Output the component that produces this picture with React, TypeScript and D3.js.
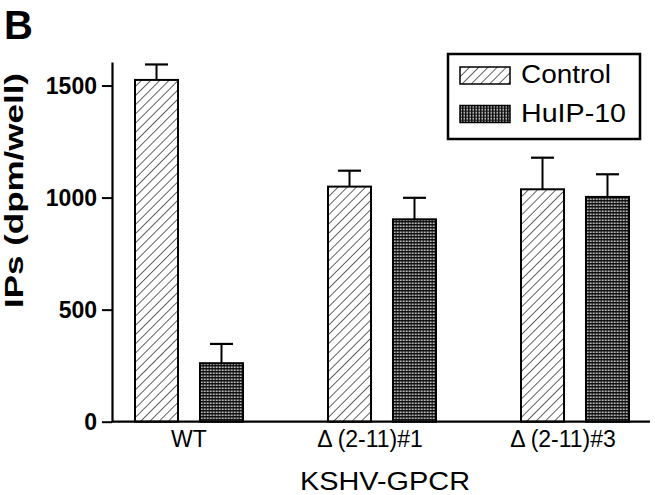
import * as d3 from 'd3';
import React, { useEffect, useRef } from 'react';

// categories + series
const groups = ['WT', 'Δ (2-11)#1', 'Δ (2-11)#3'];
const seriesNames = ['Control', 'HuIP-10'];
const controlValues = [1525, 1049, 1037];
const controlErrors = [69, 71, 141];
const huipValues = [261, 903, 1003];
const huipErrors = [86, 96, 101];
const yTicks = [0, 500, 1000, 1500];

const FONT = '"Liberation Sans", Arial, sans-serif';

const App = () => {
  const svgRef = useRef<SVGSVGElement>(null);

  useEffect(() => {
    const svg = d3.select(svgRef.current);
    svg.selectAll('*').remove();

    // patterns
    const defs = svg.append('defs');
    const hatch = defs.append('pattern')
      .attr('id', 'hatch')
      .attr('patternUnits', 'userSpaceOnUse')
      .attr('width', 6.5)
      .attr('height', 6.5)
      .attr('patternTransform', 'rotate(45)');
    hatch.append('rect').attr('width', 6.5).attr('height', 6.5).attr('fill', '#fff');
    hatch.append('line')
      .attr('x1', 0).attr('y1', 0).attr('x2', 0).attr('y2', 6.5)
      .attr('stroke', '#111').attr('stroke-width', 1.3);

    const checker = defs.append('pattern')
      .attr('id', 'checker')
      .attr('patternUnits', 'userSpaceOnUse')
      .attr('width', 3)
      .attr('height', 3);
    checker.append('rect').attr('width', 3).attr('height', 3).attr('fill', '#111');
    checker.append('rect').attr('x', 0.5).attr('y', 0.5).attr('width', 1.5).attr('height', 1.5).attr('fill', '#eee');

    const fills = ['url(#hatch)', 'url(#checker)'];

    // scales
    const y = d3.scaleLinear().domain([0, 1605]).range([421.7, 62]);
    const x0 = d3.scaleBand().domain(groups).range([92.5, 671.5]).padding(0);
    const x1 = d3.scaleBand()
      .domain(seriesNames)
      .range([0, x0.bandwidth()])
      .paddingInner(0.338)
      .paddingOuter(0.654);

    const rows = groups.map((g, i) => ({
      group: g,
      items: [
        { name: seriesNames[0], value: controlValues[i], err: controlErrors[i] },
        { name: seriesNames[1], value: huipValues[i], err: huipErrors[i] },
      ],
    }));

    // bars + error bars
    const grp = svg.append('g')
      .selectAll('g')
      .data(rows)
      .enter()
      .append('g')
      .attr('transform', d => `translate(${x0(d.group)},0)`);

    grp.selectAll('line.err')
      .data(d => d.items)
      .enter()
      .append('line')
      .attr('x1', d => x1(d.name)! + x1.bandwidth() / 2)
      .attr('x2', d => x1(d.name)! + x1.bandwidth() / 2)
      .attr('y1', d => y(d.value))
      .attr('y2', d => y(d.value + d.err))
      .attr('stroke', '#000')
      .attr('stroke-width', 2);

    grp.selectAll('line.cap')
      .data(d => d.items)
      .enter()
      .append('line')
      .attr('x1', d => x1(d.name)! + x1.bandwidth() / 2 - 11.5)
      .attr('x2', d => x1(d.name)! + x1.bandwidth() / 2 + 11.5)
      .attr('y1', d => y(d.value + d.err))
      .attr('y2', d => y(d.value + d.err))
      .attr('stroke', '#000')
      .attr('stroke-width', 2.2);

    grp.selectAll('rect')
      .data(d => d.items)
      .enter()
      .append('rect')
      .attr('x', d => x1(d.name)!)
      .attr('y', d => y(d.value))
      .attr('width', x1.bandwidth())
      .attr('height', d => y(0) - y(d.value))
      .attr('fill', (d, i) => fills[i])
      .attr('stroke', '#000')
      .attr('stroke-width', 2);

    // y axis
    const yAxis = svg.append('g')
      .attr('transform', 'translate(112,0)')
      .call(d3.axisLeft(y).tickValues(yTicks).tickSize(10).tickSizeOuter(0).tickPadding(5).tickFormat(d3.format('d')));
    yAxis.select('.domain').attr('stroke-width', 2.2);
    yAxis.selectAll('.tick line').attr('stroke-width', 2);
    yAxis.selectAll('.tick text')
      .attr('font-family', FONT)
      .attr('font-size', 23)
      .attr('font-weight', 'bold')
      .attr('dy', '0.36em')
      .attr('fill', '#000');

    // x axis
    svg.append('line')
      .attr('x1', 112).attr('x2', 650)
      .attr('y1', y(0)).attr('y2', y(0))
      .attr('stroke', '#000').attr('stroke-width', 2.2);

    svg.append('g')
      .selectAll('text')
      .data(groups)
      .enter()
      .append('text')
      .attr('x', d => x0(d)! + x0.bandwidth() / 2)
      .attr('dx', (d, i) => (i === 0 ? 0 : -12))
      .attr('y', 447)
      .attr('text-anchor', 'middle')
      .attr('font-family', FONT)
      .attr('font-size', 23)
      .text(d => d);

    // axis titles
    svg.append('text')
      .attr('x', 385).attr('y', 490)
      .attr('text-anchor', 'middle')
      .attr('font-family', FONT)
      .attr('font-size', 25)
      .attr('textLength', 170)
      .attr('lengthAdjust', 'spacingAndGlyphs')
      .text('KSHV-GPCR');

    svg.append('text')
      .attr('transform', 'translate(23,190.5) rotate(-90)')
      .attr('text-anchor', 'middle')
      .attr('font-family', FONT)
      .attr('font-size', 26)
      .attr('font-weight', 'bold')
      .attr('textLength', 235)
      .attr('lengthAdjust', 'spacingAndGlyphs')
      .text('IPs (dpm/well)');

    // panel letter
    svg.append('text')
      .attr('x', 4).attr('y', 39)
      .attr('font-family', FONT)
      .attr('font-size', 40)
      .attr('font-weight', 'bold')
      .text('B');

    // legend
    const legend = svg.append('g');
    legend.append('rect')
      .attr('x', 448).attr('y', 54)
      .attr('width', 192).attr('height', 85)
      .attr('fill', '#fff')
      .attr('stroke', '#000')
      .attr('stroke-width', 2.5);

    const legendLengths = [90, 105];
    const items = legend.selectAll('g.item')
      .data(seriesNames)
      .enter()
      .append('g')
      .attr('transform', (d, i) => `translate(460,${67 + i * 38.5})`);
    items.append('rect')
      .attr('width', 50).attr('height', 17)
      .attr('fill', (d, i) => fills[i])
      .attr('stroke', '#000')
      .attr('stroke-width', 1.5);
    items.append('text')
      .attr('x', 61).attr('y', 16)
      .attr('font-family', FONT)
      .attr('font-size', 25)
      .attr('textLength', (d, i) => legendLengths[i])
      .attr('lengthAdjust', 'spacingAndGlyphs')
      .text(d => d);
  }, []);

  return (
    <svg ref={svgRef} width="655" height="495"
      style={{ position: 'absolute', left: 0, top: 0, background: '#fff' }} />
  );
};

export default App;
